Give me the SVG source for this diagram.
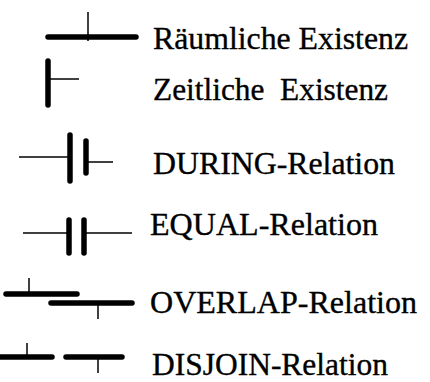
<svg xmlns="http://www.w3.org/2000/svg" width="430" height="382" viewBox="0 0 430 382">
  <style>
    .bar { stroke: #000; stroke-width: 5.5; stroke-linecap: round; fill: none; }
    .thin { stroke: #000; stroke-width: 1.5; fill: none; }
    .label { font-family: "Liberation Serif", "Times New Roman", serif; font-size: 31px; fill: #000; stroke: #000; stroke-width: 0.35; }
  </style>
  <rect width="430" height="382" fill="#fff"/>

  <g id="connectors">
    <!-- spatial existence -->
    <line class="bar" x1="48" y1="37" x2="136" y2="37"/>
    <line class="thin" x1="88" y1="12" x2="88" y2="41"/>
    <!-- temporal existence -->
    <line class="bar" x1="48" y1="61" x2="48" y2="105"/>
    <line class="thin" x1="48" y1="79" x2="79" y2="79"/>
    <!-- during -->
    <line class="thin" x1="19" y1="157" x2="69" y2="157"/>
    <line class="bar" x1="70" y1="135" x2="70" y2="181"/>
    <line class="bar" x1="86" y1="141" x2="86" y2="173"/>
    <line class="thin" x1="86" y1="162" x2="113" y2="162"/>
    <!-- equal -->
    <line class="thin" x1="23" y1="233" x2="68" y2="233"/>
    <line class="bar" x1="69" y1="220" x2="69" y2="253"/>
    <line class="bar" x1="84" y1="220" x2="84" y2="253"/>
    <line class="thin" x1="84" y1="233" x2="132" y2="233"/>
    <!-- overlap -->
    <line class="bar" x1="6" y1="294" x2="77" y2="294"/>
    <line class="thin" x1="29" y1="278" x2="29" y2="294"/>
    <line class="bar" x1="51" y1="303" x2="132" y2="303"/>
    <line class="thin" x1="98" y1="303" x2="98" y2="319"/>
    <!-- disjoin -->
    <line class="bar" x1="0" y1="357" x2="52" y2="357"/>
    <line class="thin" x1="27" y1="343" x2="27" y2="357"/>
    <line class="bar" x1="66" y1="357" x2="122" y2="357"/>
    <line class="thin" x1="98" y1="357" x2="98" y2="373"/>
  </g>

  <g id="label-raeumlich"><text class="label" x="153" y="49" textLength="255" lengthAdjust="spacingAndGlyphs">Räumliche Existenz</text></g>
  <g id="label-zeitlich"><text class="label" x="153" y="100" textLength="235" lengthAdjust="spacingAndGlyphs" xml:space="preserve">Zeitliche  Existenz</text></g>
  <g id="label-during"><text class="label" x="153" y="174" textLength="242" lengthAdjust="spacingAndGlyphs">DURING-Relation</text></g>
  <g id="label-equal"><text class="label" x="150" y="235" textLength="228" lengthAdjust="spacingAndGlyphs">EQUAL-Relation</text></g>
  <g id="label-overlap"><text class="label" x="150" y="313" textLength="267" lengthAdjust="spacingAndGlyphs">OVERLAP-Relation</text></g>
  <g id="label-disjoin"><text class="label" x="152" y="375" textLength="236" lengthAdjust="spacingAndGlyphs">DISJOIN-Relation</text></g>
</svg>
